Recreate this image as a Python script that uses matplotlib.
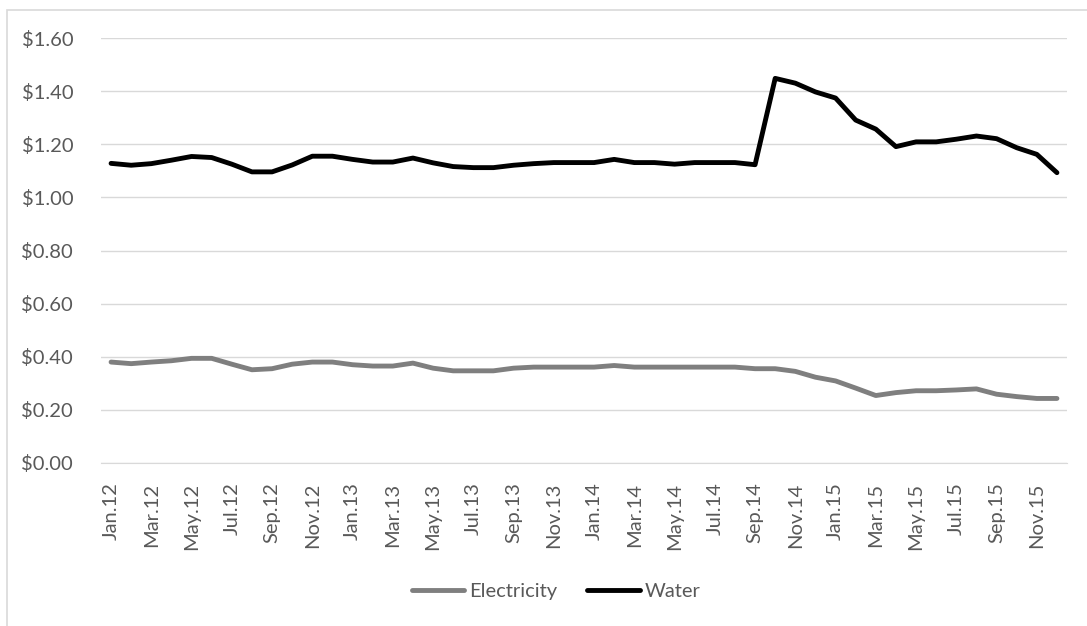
import matplotlib
matplotlib.use("Agg")
import matplotlib.pyplot as plt
from matplotlib.patches import Rectangle

plt.rcParams['font.family'] = ['Lato', 'DejaVu Sans']

years = ['12', '13', '14', '15']
month_names = ['Jan', 'Feb', 'Mar', 'Apr', 'May', 'Jun',
               'Jul', 'Aug', 'Sep', 'Oct', 'Nov', 'Dec']
months = [f"{m}.{y}" for y in years for m in month_names]

electricity = [0.380, 0.374, 0.380, 0.385, 0.394, 0.394, 0.372, 0.351, 0.355, 0.372, 0.380, 0.380,
               0.370, 0.365, 0.365, 0.376, 0.357, 0.347, 0.347, 0.347, 0.357, 0.361, 0.361, 0.361,
               0.361, 0.367, 0.361, 0.361, 0.361, 0.361, 0.361, 0.361, 0.355, 0.355, 0.345, 0.323,
               0.309, 0.282, 0.254, 0.265, 0.272, 0.272, 0.275, 0.279, 0.259, 0.250, 0.243, 0.243]

water = [1.128, 1.121, 1.127, 1.140, 1.154, 1.150, 1.125, 1.096, 1.096, 1.122, 1.155, 1.155,
         1.143, 1.133, 1.133, 1.148, 1.130, 1.116, 1.112, 1.112, 1.121, 1.127, 1.131, 1.131,
         1.131, 1.143, 1.131, 1.131, 1.125, 1.131, 1.131, 1.131, 1.123, 1.448, 1.430, 1.397,
         1.374, 1.291, 1.257, 1.191, 1.209, 1.209, 1.219, 1.231, 1.221, 1.187, 1.162, 1.093]

y_ticks = [0.0, 0.2, 0.4, 0.6, 0.8, 1.0, 1.2, 1.4, 1.6]

W, H = 1087, 626
fig = plt.figure(figsize=(W / 100, H / 100), dpi=100)
ax = fig.add_axes([101 / W, 1 - 463 / H, (1067 - 101) / W, (463 - 38) / H])

x = list(range(len(months)))
ax.plot(x, electricity, color='#7f7f7f', lw=3.5, solid_joinstyle='round',
        solid_capstyle='round', label='Electricity')
ax.plot(x, water, color='#000000', lw=3.5, solid_joinstyle='round',
        solid_capstyle='round', label='Water')

ax.set_xlim(-0.5, len(months) - 0.5)
ax.set_ylim(0, 1.6)
ax.set_yticks(y_ticks)
ax.set_yticklabels([f"${v:.2f}" for v in y_ticks])
ax.set_xticks(x[::2])
ax.set_xticklabels(months[::2], rotation=90)

ax.grid(axis='y', color='#d9d9d9', lw=1)
ax.set_axisbelow(True)
for s in ['top', 'right', 'left']:
    ax.spines[s].set_visible(False)
ax.spines['bottom'].set_color('#d9d9d9')
ax.tick_params(axis='both', length=0, labelsize=14.5, labelcolor='#595959')
ax.tick_params(axis='y', pad=20)
ax.tick_params(axis='x', pad=14)

leg = fig.legend(loc='center', bbox_to_anchor=(556 / W, 1 - 591 / H), ncol=2,
                 frameon=False, fontsize=14.5, handlelength=2.6, handletextpad=0.25,
                 columnspacing=1.5)
for t in leg.get_texts():
    t.set_color('#595959')

fig.patches.append(Rectangle((6.5 / W, -0.05), 1.2, 1 - 10 / H + 0.05,
                             transform=fig.transFigure, fill=False,
                             edgecolor='#d9d9d9', lw=1.2))

fig.savefig('out.png', dpi=100, facecolor='white')
